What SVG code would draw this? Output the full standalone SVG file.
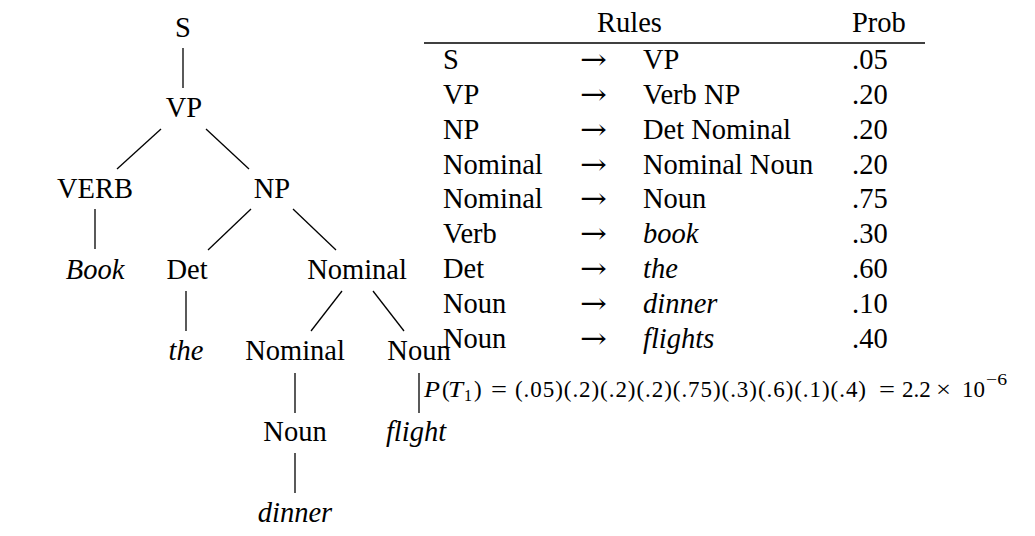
<svg xmlns="http://www.w3.org/2000/svg" width="1035" height="536" viewBox="0 0 1035 536" font-family="'Liberation Serif', 'DejaVu Serif', 'Times New Roman', serif">
<style>
text{font-family:'Liberation Serif','DejaVu Serif','Times New Roman',serif;fill:#000}
.t{font-size:28.5px;text-anchor:middle}
.i{font-style:italic}
.r{font-size:28.5px}
.m{font-size:23px}
.a{font-size:28px;font-family:'DejaVu Serif',serif}
.e line{stroke:#000;stroke-width:1.3}
</style>
<rect width="1035" height="536" fill="#fff"/>
<g id="tree-nodes">
<g id="n-S"><text class="t" x="183" y="37">S</text></g>
<g id="n-VP"><text class="t" x="184" y="117">VP</text></g>
<g id="n-VERB"><text class="t" x="95" y="198">VERB</text></g>
<g id="n-NP"><text class="t" x="272" y="198">NP</text></g>
<g id="n-Book"><text class="t i" x="95" y="279">Book</text></g>
<g id="n-Det"><text class="t" x="187" y="279">Det</text></g>
<g id="n-Nominal1"><text class="t" x="357" y="279">Nominal</text></g>
<g id="n-the"><text class="t i" x="186" y="360">the</text></g>
<g id="n-Nominal2"><text class="t" x="295" y="360">Nominal</text></g>
<g id="n-Noun1"><text class="t" x="419" y="360">Noun</text></g>
<g id="n-Noun2"><text class="t" x="295" y="441">Noun</text></g>
<g id="n-flight"><text class="t i" x="416" y="441">flight</text></g>
<g id="n-dinner"><text class="t i" x="295" y="522">dinner</text></g>
</g>
<g id="connectors" class="e">
<line x1="183" y1="48" x2="183" y2="88"/>
<line x1="161" y1="129" x2="117" y2="169"/>
<line x1="206" y1="129" x2="249" y2="169"/>
<line x1="95" y1="209" x2="95" y2="249"/>
<line x1="251" y1="209" x2="208" y2="250"/>
<line x1="293" y1="209" x2="336" y2="250"/>
<line x1="186" y1="291" x2="186" y2="331"/>
<line x1="342" y1="291" x2="311" y2="331"/>
<line x1="373" y1="291" x2="404" y2="331"/>
<line x1="295" y1="373" x2="295" y2="413"/>
<line x1="419" y1="373" x2="419" y2="413"/>
<line x1="295" y1="453" x2="295" y2="493"/>
</g>
<g id="rules-table">
<text class="r" x="597" y="32">Rules</text>
<text class="r" x="852" y="32">Prob</text>
<line x1="424" y1="43" x2="925" y2="43" stroke="#000" stroke-width="1.3"/>
<text class="r" x="443" y="69">S</text><text class="a" x="580" y="69" textLength="27" lengthAdjust="spacingAndGlyphs">→</text><text class="r" x="643" y="69">VP</text><text class="r" x="852" y="69">.05</text>
<text class="r" x="443" y="104">VP</text><text class="a" x="580" y="104" textLength="27" lengthAdjust="spacingAndGlyphs">→</text><text class="r" x="643" y="104">Verb NP</text><text class="r" x="852" y="104">.20</text>
<text class="r" x="443" y="139">NP</text><text class="a" x="580" y="139" textLength="27" lengthAdjust="spacingAndGlyphs">→</text><text class="r" x="643" y="139">Det Nominal</text><text class="r" x="852" y="139">.20</text>
<text class="r" x="443" y="174">Nominal</text><text class="a" x="580" y="174" textLength="27" lengthAdjust="spacingAndGlyphs">→</text><text class="r" x="643" y="174">Nominal Noun</text><text class="r" x="852" y="174">.20</text>
<text class="r" x="443" y="208">Nominal</text><text class="a" x="580" y="208" textLength="27" lengthAdjust="spacingAndGlyphs">→</text><text class="r" x="643" y="208">Noun</text><text class="r" x="852" y="208">.75</text>
<text class="r" x="443" y="243">Verb</text><text class="a" x="580" y="243" textLength="27" lengthAdjust="spacingAndGlyphs">→</text><text class="r i" x="643" y="243">book</text><text class="r" x="852" y="243">.30</text>
<text class="r" x="443" y="278">Det</text><text class="a" x="580" y="278" textLength="27" lengthAdjust="spacingAndGlyphs">→</text><text class="r i" x="643" y="278">the</text><text class="r" x="852" y="278">.60</text>
<text class="r" x="443" y="313">Noun</text><text class="a" x="580" y="313" textLength="27" lengthAdjust="spacingAndGlyphs">→</text><text class="r i" x="643" y="313">dinner</text><text class="r" x="852" y="313">.10</text>
<text class="r" x="443" y="348">Noun</text><text class="a" x="580" y="348" textLength="27" lengthAdjust="spacingAndGlyphs">→</text><text class="r i" x="643" y="348">flights</text><text class="r" x="852" y="348">.40</text>
</g>
<g id="formula">
<text class="m" y="397"><tspan class="i" x="424" textLength="16" lengthAdjust="spacingAndGlyphs">P</tspan><tspan x="442">(</tspan><tspan class="i" x="448" textLength="15" lengthAdjust="spacingAndGlyphs">T</tspan><tspan font-size="16" x="464" y="401">1</tspan><tspan x="474" y="397">)</tspan></text>
<text class="m" x="491" y="397" textLength="16" lengthAdjust="spacingAndGlyphs">=</text>
<text class="m" x="515" y="397" textLength="351" lengthAdjust="spacing">(.05)(.2)(.2)(.2)(.75)(.3)(.6)(.1)(.4)</text>
<text class="m" x="879" y="397" textLength="16" lengthAdjust="spacingAndGlyphs">=</text>
<text class="m" x="902" y="397">2.2</text>
<text class="m" x="936" y="397" textLength="15" lengthAdjust="spacingAndGlyphs">×</text>
<text class="m" x="962" y="397">10</text>
<text x="986" y="385" font-size="16" textLength="21" lengthAdjust="spacingAndGlyphs">−6</text>
</g>
</svg>
